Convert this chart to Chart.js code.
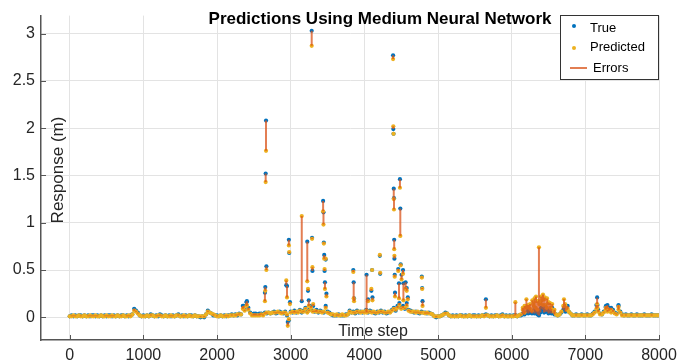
<!DOCTYPE html>
<html>
<head>
<meta charset="utf-8">
<title>Predictions Using Medium Neural Network</title>
<script src="https://cdn.jsdelivr.net/npm/chart.js@4.4.0/dist/chart.umd.min.js"></script>
<style>
html, body { margin: 0; padding: 0; background: #fff; }
#wrap { width: 689px; height: 364px; }
</style>
</head>
<body>
<div id="wrap"><canvas id="chart-area" width="689" height="364"></canvas></div>
<script>
// background readings, one every 25 time steps (0 .. 8000)
var baseStep = 25;

var trueBase = [
    0.01,0.02,0.01,0.02,0.01,0.02,0.02,0.01,0.02,0.01, 0.02,0.01,0.02,0.02,0.01,0.02,0.01,0.02,0.01,0.02,
    0.01,0.02,0.02,0.01,0.02,0.01,0.02,0.01,0.02,0.02, 0.01,0.02,0.01,0.02,0.03,0.09,0.07,0.05,0.02,0.01,
    0.02,0.01,0.02,0.01,0.03,0.02,0.01,0.02,0.01,0.03, 0.02,0.01,0.02,0.01,0.02,0.01,0.02,0.01,0.02,0.03,
    0.01,0.02,0.01,0.02,0.01,0.02,0.02,0.01,0.02,0.01, 0.01,0.00,0.01,0.00,0.03,0.07,0.05,0.04,0.02,0.02,
    0.02,0.01,0.02,0.01,0.02,0.01,0.02,0.02,0.03,0.02, 0.03,0.02,0.04,0.03,0.12,0.08,0.16,0.10,0.05,0.03,
    0.04,0.04,0.03,0.04,0.04,0.03,0.05,0.04,0.05,0.04, 0.05,0.06,0.04,0.05,0.06,0.05,0.04,0.06,0.02,-0.03,
    0.06,0.05,0.07,0.05,0.06,0.08,0.05,0.07,0.10,0.06, 0.08,0.12,0.07,0.06,0.08,0.05,0.07,0.06,0.05,0.12,
    0.06,0.05,0.03,0.02,0.02,0.02,0.03,0.02,0.02,0.02, 0.03,0.03,0.07,0.05,0.06,0.04,0.07,0.05,0.06,0.05,
    0.06,0.08,0.05,0.07,0.06,0.05,0.04,0.06,0.05,0.07, 0.05,0.06,0.04,0.05,0.06,0.08,0.10,0.07,0.12,0.15,
    0.10,0.12,0.09,0.15,0.08,0.07,0.06,0.05,0.06,0.05, 0.04,0.06,0.05,0.05,0.04,0.05,0.04,0.03,0.01,0.00,
    0.01,0.01,0.02,0.03,0.05,0.04,0.02,0.01,0.02,0.01, 0.02,0.01,0.02,0.02,0.01,0.02,0.01,0.02,0.01,0.02,
    0.02,0.01,0.02,0.01,0.02,0.02,0.03,0.02,0.01,0.02, 0.01,0.02,0.02,0.01,0.02,0.03,0.01,0.02,0.01,0.02,
    0.01,0.02,0.02,0.01,0.02,0.02,0.04,0.03,0.05,0.08, 0.06,0.04,0.07,0.05,0.03,0.06,0.09,0.08,0.12,0.06,
    0.08,0.07,0.10,0.05,0.03,0.02,0.03,0.05,0.08,0.10, 0.09,0.06,0.04,0.02,0.02,0.03,0.02,0.02,0.03,0.02,
    0.02,0.03,0.02,0.02,0.04,0.06,0.13,0.08,0.04,0.03, 0.06,0.11,0.08,0.10,0.06,0.08,0.05,0.04,0.12,0.06,
    0.03,0.02,0.03,0.02,0.02,0.03,0.02,0.02,0.03,0.02, 0.02,0.02,0.03,0.02,0.02,0.02,0.03,0.02,0.02,0.02,
    0.02
];

var predBase = [
    0.01,0.01,0.02,0.01,0.01,0.02,0.01,0.01,0.02,0.01, 0.01,0.02,0.01,0.01,0.02,0.01,0.01,0.02,0.01,0.01,
    0.02,0.01,0.01,0.02,0.01,0.01,0.02,0.01,0.01,0.02, 0.01,0.01,0.02,0.01,0.03,0.07,0.06,0.04,0.02,0.01,
    0.01,0.01,0.02,0.01,0.02,0.02,0.01,0.01,0.02,0.02, 0.01,0.01,0.02,0.01,0.01,0.02,0.01,0.01,0.02,0.02,
    0.01,0.01,0.02,0.01,0.01,0.02,0.01,0.01,0.02,0.01, 0.01,0.01,0.01,0.01,0.03,0.06,0.05,0.04,0.03,0.02,
    0.01,0.01,0.02,0.01,0.01,0.02,0.01,0.02,0.02,0.02, 0.02,0.03,0.03,0.03,0.09,0.07,0.12,0.08,0.04,0.02,
    0.02,0.02,0.02,0.02,0.03,0.02,0.04,0.05,0.05,0.04, 0.05,0.05,0.05,0.06,0.05,0.04,0.05,0.05,0.03,-0.02,
    0.05,0.06,0.05,0.06,0.05,0.07,0.06,0.06,0.09,0.05, 0.07,0.10,0.06,0.07,0.06,0.06,0.06,0.05,0.06,0.10,
    0.05,0.04,0.03,0.03,0.02,0.03,0.02,0.02,0.03,0.02, 0.02,0.03,0.06,0.05,0.05,0.05,0.06,0.06,0.05,0.06,
    0.05,0.07,0.06,0.06,0.05,0.06,0.05,0.05,0.06,0.06, 0.06,0.05,0.05,0.06,0.05,0.07,0.09,0.08,0.10,0.13,
    0.09,0.10,0.10,0.12,0.07,0.06,0.06,0.06,0.05,0.06, 0.05,0.05,0.05,0.04,0.05,0.04,0.04,0.03,0.01,0.01,
    0.01,0.01,0.02,0.03,0.04,0.04,0.02,0.01,0.01,0.01, 0.01,0.01,0.02,0.01,0.01,0.01,0.01,0.02,0.01,0.01,
    0.01,0.01,0.01,0.01,0.02,0.01,0.02,0.02,0.01,0.01, 0.01,0.01,0.02,0.01,0.01,0.02,0.01,0.01,0.01,0.01,
    0.01,0.01,0.02,0.01,0.02,0.03,0.08,0.05,0.10,0.12, 0.09,0.07,0.12,0.10,0.08,0.14,0.18,0.13,0.20,0.10,
    0.15,0.10,0.14,0.06,0.03,0.02,0.03,0.06,0.12,0.14, 0.08,0.06,0.04,0.02,0.02,0.02,0.02,0.02,0.02,0.02,
    0.02,0.02,0.02,0.02,0.03,0.05,0.09,0.06,0.03,0.03, 0.05,0.08,0.06,0.07,0.05,0.06,0.04,0.03,0.08,0.05,
    0.02,0.02,0.02,0.02,0.02,0.02,0.02,0.02,0.02,0.02, 0.02,0.02,0.02,0.02,0.02,0.02,0.02,0.02,0.02,0.02,
    0.02
];

// isolated peaks: [time step, true, predicted]
var spikes = [
    [2360, 0.12, 0.10], [2405, 0.17, 0.13],
    [2650, 0.26, 0.17], [2655, 0.32, 0.28], [2660, 1.52, 1.43], [2665, 2.08, 1.76], [2670, 0.54, 0.50],
    [2940, 0.34, 0.39], [2950, 0.33, 0.21], [2960, -0.05, -0.09], [2975, 0.82, 0.76], [2980, 0.68, 0.69], [2990, 0.16, 0.14],
    [3150, 0.17, 1.07],
    [3225, 0.80, 0.38], [3235, 0.28, 0.30], [3245, 0.18, 0.12],
    [3285, 3.03, 2.87], [3290, 0.84, 0.83], [3295, 0.49, 0.53], [3305, 0.12, 0.14],
    [3440, 1.23, 1.12], [3445, 1.11, 0.98], [3450, 0.79, 0.78], [3455, 0.66, 0.62], [3460, 0.49, 0.51],
    [3465, 0.37, 0.30], [3475, 0.61, 0.62], [3485, 0.25, 0.22],
    [3850, 0.50, 0.48], [3855, 0.37, 0.20], [3860, 0.20, 0.17],
    [4030, 0.45, 0.05], [4050, 0.19, 0.17],
    [4095, 0.28, 0.30], [4105, 0.50, 0.50], [4110, 0.21, 0.18],
    [4210, 0.65, 0.66], [4215, 0.46, 0.47],
    [4390, 2.77, 2.73], [4393, 1.99, 2.02], [4396, 1.94, 1.94], [4399, 1.36, 1.25], [4402, 1.26, 1.14],
    [4405, 0.82, 0.72], [4408, 0.62, 0.65], [4412, 0.45, 0.43], [4416, 0.26, 0.22],
    [4460, 0.51, 0.49], [4470, 0.36, 0.20], [4483, 1.46, 1.37], [4488, 1.15, 0.86], [4493, 0.56, 0.55], [4505, 0.45, 0.40],
    [4525, 0.50, 0.46], [4530, 0.36, 0.18], [4560, 0.37, 0.30], [4575, 0.31, 0.28], [4590, 0.21, 0.19],
    [4780, 0.43, 0.42], [4785, 0.31, 0.30], [4790, 0.17, 0.12],
    [5650, 0.19, 0.10],
    [6050, 0.02, 0.16], [6150, 0.03, 0.10], [6175, 0.04, 0.12], [6200, 0.05, 0.19], [6225, 0.04, 0.13],
    [6250, 0.05, 0.14], [6280, 0.06, 0.18], [6300, 0.07, 0.16], [6310, 0.04, 0.20], [6330, 0.08, 0.22],
    [6350, 0.06, 0.17], [6370, 0.02, 0.74], [6390, 0.05, 0.15], [6400, 0.10, 0.22], [6410, 0.09, 0.18],
    [6425, 0.08, 0.24], [6440, 0.05, 0.19], [6450, 0.06, 0.21], [6460, 0.07, 0.13], [6480, 0.08, 0.20],
    [6500, 0.04, 0.16], [6520, 0.05, 0.15], [6540, 0.04, 0.09], [6580, 0.03, 0.08],
    [6710, 0.10, 0.19], [6730, 0.06, 0.12], [6760, 0.12, 0.09],
    [7160, 0.21, 0.14], [7165, 0.13, 0.10], [7280, 0.12, 0.10], [7300, 0.13, 0.09], [7350, 0.10, 0.08], [7450, 0.13, 0.11]
];

var xTicks = [0, 1000, 2000, 3000, 4000, 5000, 6000, 7000, 8000];
var yTicks = [0, 0.5, 1, 1.5, 2, 2.5, 3];

var BLUE = '#0072BD', GOLD = '#EDB120', RED = '#D95319';

var points = [];
for (var i = 0; i < trueBase.length; i++) {
    points.push({ t: i * baseStep, y: trueBase[i], p: predBase[i] });
}
spikes.forEach(function (s) { points.push({ t: s[0], y: s[1], p: s[2] }); });
points.sort(function (a, b) { return a.t - b.t; });

var trueData = points.map(function (d) { return { x: d.t, y: d.y }; });
var predData = points.map(function (d) { return { x: d.t, y: d.p }; });
var errData = [];
points.forEach(function (d) {
    errData.push({ x: d.t, y: d.y }, { x: d.t, y: d.p }, { x: d.t, y: null });
});

// title, axis labels, inward ticks and boxed legend, drawn like the matlab figure
var decorations = {
    id: 'decorations',
    afterDraw: function (chart) {
        var ctx = chart.ctx;
        var xs = chart.scales.x, ys = chart.scales.y, area = chart.chartArea;
        ctx.save();

        ctx.strokeStyle = '#555';
        ctx.lineWidth = 1;
        ctx.beginPath();
        xTicks.forEach(function (v) {
            var px = Math.round(xs.getPixelForValue(v)) + 0.5;
            ctx.moveTo(px, area.bottom); ctx.lineTo(px, area.bottom - 5);
        });
        yTicks.forEach(function (v) {
            var py = Math.round(ys.getPixelForValue(v)) + 0.5;
            ctx.moveTo(area.left, py); ctx.lineTo(area.left + 5, py);
        });
        ctx.stroke();

        ctx.fillStyle = '#000';
        ctx.textAlign = 'center';
        ctx.textBaseline = 'middle';
        ctx.font = 'bold 17px "Liberation Sans", Arial, sans-serif';
        ctx.fillText('Predictions Using Medium Neural Network', 380, 19);

        ctx.fillStyle = '#262626';
        ctx.font = '16px "Liberation Sans", Arial, sans-serif';
        ctx.fillText('Time step', 373, 332);

        ctx.save();
        ctx.translate(58, 170);
        ctx.rotate(-Math.PI / 2);
        ctx.font = '17px "Liberation Sans", Arial, sans-serif';
        ctx.fillText('Response (m)', 0, 0);
        ctx.restore();

        // legend
        ctx.fillStyle = '#fff';
        ctx.fillRect(560.5, 15.5, 98, 64);
        ctx.strokeStyle = '#333';
        ctx.lineWidth = 1;
        ctx.strokeRect(560.5, 15.5, 98, 64);
        ctx.fillStyle = BLUE;
        ctx.beginPath(); ctx.arc(574, 26, 2, 0, Math.PI * 2); ctx.fill();
        ctx.fillStyle = GOLD;
        ctx.beginPath(); ctx.arc(574, 48, 2, 0, Math.PI * 2); ctx.fill();
        ctx.strokeStyle = RED;
        ctx.lineWidth = 1.5;
        ctx.beginPath(); ctx.moveTo(570, 68); ctx.lineTo(587, 68); ctx.stroke();
        ctx.fillStyle = '#000';
        ctx.textAlign = 'left';
        ctx.font = '13px "Liberation Sans", Arial, sans-serif';
        ctx.fillText('True', 590, 28);
        ctx.fillText('Predicted', 590, 47);
        ctx.fillText('Errors', 593, 68);
        ctx.restore();
    }
};

var config = {
    type: 'scatter',
    data: {
        datasets: [{
            label: 'Errors',
            data: errData,
            showLine: true,
            spanGaps: false,
            borderColor: 'rgba(217,83,25,0.75)',
            borderWidth: 2,
            pointRadius: 0,
            order: 0
        }, {
            label: 'Predicted',
            data: predData,
            backgroundColor: GOLD,
            pointRadius: 2.1,
            pointBorderWidth: 0,
            order: 1
        }, {
            label: 'True',
            data: trueData,
            backgroundColor: BLUE,
            pointRadius: 2.1,
            pointBorderWidth: 0,
            order: 2
        }]
    },
    options: {
        responsive: false,
        animation: false,
        devicePixelRatio: 1,
        layout: { padding: { top: 13, right: 30, left: 0, bottom: 0 } },
        plugins: {
            legend: { display: false },
            tooltip: { enabled: false }
        },
        scales: {
            x: {
                type: 'linear',
                min: -390,
                max: 8000,
                afterBuildTicks: function (s) { s.ticks = xTicks.map(function (v) { return { value: v }; }); },
                afterFit: function (s) { s.height = 24; },
                ticks: {
                    autoSkip: false,
                    maxRotation: 0,
                    padding: 6,
                    color: '#262626',
                    font: { size: 16, family: '"Liberation Sans", Arial, sans-serif' },
                    callback: function (v) { return String(v); }
                },
                grid: { color: '#e3e3e3', drawTicks: false },
                border: { color: '#555', width: 1.5 }
            },
            y: {
                min: -0.24,
                max: 3.19,
                afterBuildTicks: function (s) { s.ticks = yTicks.map(function (v) { return { value: v }; }); },
                afterFit: function (s) { s.width = 41; },
                ticks: {
                    padding: 6,
                    color: '#262626',
                    font: { size: 16, family: '"Liberation Sans", Arial, sans-serif' },
                    callback: function (v) { return String(v); }
                },
                grid: { color: '#e3e3e3', drawTicks: false },
                border: { color: '#555', width: 1.5 }
            }
        }
    },
    plugins: [decorations]
};

window.onload = function () {
    var ctx = document.getElementById('chart-area').getContext('2d');
    window.myScatter = new Chart(ctx, config);
};
</script>
</body>
</html>
